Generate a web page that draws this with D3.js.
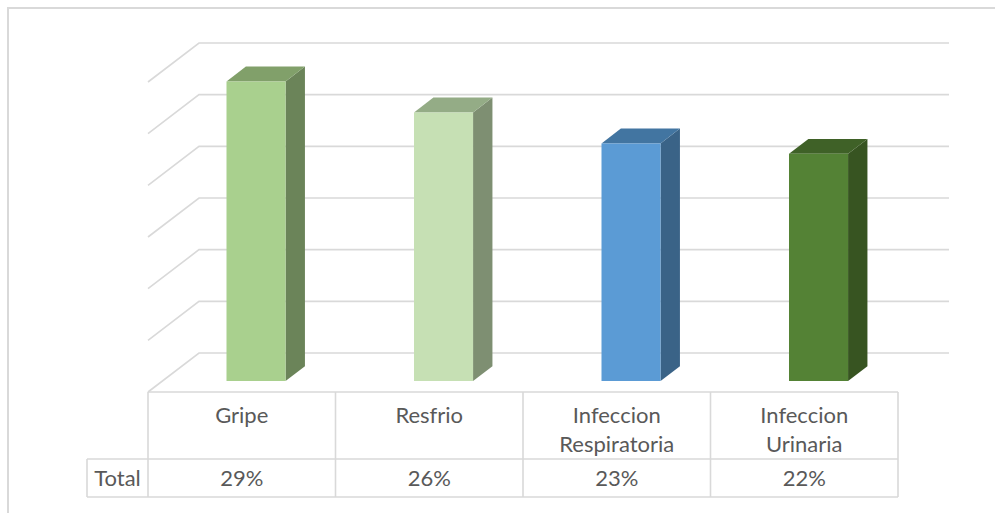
<!DOCTYPE html>
<html>
<head>
<meta charset="utf-8">
<script src="https://cdn.jsdelivr.net/npm/d3@7"></script>
<style>
  body { margin: 0; background: #fff; }
  svg { display: block; }
  text { font-family: Lato, "Open Sans", sans-serif; fill: #595959; }
</style>
</head>
<body>
<svg width="1004" height="513"></svg>
<script>
// chart data
const categories = ["Gripe", "Resfrio", "Infeccion\nRespiratoria", "Infeccion\nUrinaria"];
const values = [0.29, 0.26, 0.23, 0.22];
const yTicks = [0, 0.05, 0.10, 0.15, 0.20, 0.25, 0.30];
const rowLabel = "Total";

// palette: front, side, top for each bar
const frontColors = ["#a9d08e", "#c6e0b4", "#5b9bd5", "#548235"];
const sideColors = ["#6b8459", "#7e8f72", "#3a6387", "#375421"];
const topColors = ["#81a06a", "#94ac86", "#4275a1", "#3f6127"];

function drawChart() {
    const svg = d3.select("svg");
    const gridColor = "#d9d9d9";

    // floor front-left corner and depth vector of the 3D box
    const x0 = 148, x1 = 898, floorY = 392;
    const DX = 51, DY = 39;
    const zFront = 0.28, zBack = 0.66;

    const x = d3.scaleBand().domain(categories).range([x0, x1]).padding(0);
    const y = d3.scaleLinear().domain([0, 0.30]).range([0, 310]);

    // project (front x, value, depth 0..1) to screen
    const proj = (px, v, z) => [px + z * DX, floorY - z * DY - y(v)];

    // outer frame (only top and left visible)
    svg.append("path")
        .attr("d", "M8,513 L8,8 L995,8")
        .attr("fill", "none").attr("stroke", gridColor).attr("stroke-width", 2);

    // gridlines on side wall + back wall
    svg.append("g").selectAll("path")
        .data(yTicks)
        .enter()
        .append("path")
        .attr("d", t => {
            const a = proj(x0, t, 0), b = proj(x0, t, 1), c = proj(x1, t, 1);
            return "M" + a + "L" + b + "L" + c;
        })
        .attr("fill", "none")
        .attr("stroke", gridColor)
        .attr("stroke-width", 1.6);

    // bars
    const bars = svg.append("g").selectAll("g")
        .data(values)
        .enter()
        .append("g");

    const barW = x.bandwidth() * 0.315;
    const left = (d, i) => x(categories[i]) + (x.bandwidth() - barW) / 2;

    const poly = pts => "M" + pts.join("L") + "Z";

    // side face
    bars.append("path")
        .attr("d", (d, i) => {
            const r = left(d, i) + barW;
            return poly([proj(r, 0, zFront), proj(r, d, zFront), proj(r, d, zBack), proj(r, 0, zBack)]);
        })
        .attr("fill", (d, i) => sideColors[i]);

    // top face
    bars.append("path")
        .attr("d", (d, i) => {
            const l = left(d, i), r = l + barW;
            return poly([proj(l, d, zFront), proj(r, d, zFront), proj(r, d, zBack), proj(l, d, zBack)]);
        })
        .attr("fill", (d, i) => topColors[i]);

    // front face
    bars.append("path")
        .attr("d", (d, i) => {
            const l = left(d, i), r = l + barW;
            return poly([proj(l, 0, zFront), proj(r, 0, zFront), proj(r, d, zFront), proj(l, d, zFront)]);
        })
        .attr("fill", (d, i) => frontColors[i]);

    // data table
    const headTop = floorY, rowTop = 459, rowBottom = 497, labelLeft = 87;
    const table = svg.append("g")
        .attr("stroke", gridColor).attr("stroke-width", 1.6).attr("fill", "none");

    table.append("path").attr("d", `M${x0},${headTop}L${x1},${headTop}`);
    table.append("path").attr("d", `M${labelLeft},${rowTop}L${x1},${rowTop}`);
    table.append("path").attr("d", `M${labelLeft},${rowBottom}L${x1},${rowBottom}`);
    table.append("path").attr("d", `M${labelLeft},${rowTop}L${labelLeft},${rowBottom}`);

    const edges = categories.map(c => x(c)).concat([x1]);
    table.selectAll(".vline")
        .data(edges)
        .enter()
        .append("path")
        .attr("class", "vline")
        .attr("d", e => `M${e},${headTop}L${e},${rowBottom}`);

    // category names
    const fs = 22;
    svg.append("g").selectAll("text")
        .data(categories)
        .enter()
        .append("text")
        .attr("text-anchor", "middle")
        .attr("font-size", fs)
        .attr("y", 423)
        .each(function(c) {
            const lines = c.split("\n");
            d3.select(this).selectAll("tspan")
                .data(lines)
                .enter()
                .append("tspan")
                .attr("x", x(c) + x.bandwidth() / 2)
                .attr("dy", (l, j) => j === 0 ? 0 : 29)
                .text(l => l);
        });

    // values row
    const fmt = d3.format(".0%");
    svg.append("g").selectAll("text")
        .data(values)
        .enter()
        .append("text")
        .attr("text-anchor", "middle")
        .attr("font-size", fs)
        .attr("x", (d, i) => x(categories[i]) + x.bandwidth() / 2)
        .attr("y", 486)
        .text(d => fmt(d));

    svg.append("text")
        .attr("text-anchor", "middle")
        .attr("font-size", fs)
        .attr("x", (labelLeft + x0) / 2)
        .attr("y", 486)
        .text(rowLabel);
}

drawChart();
</script>
</body>
</html>
